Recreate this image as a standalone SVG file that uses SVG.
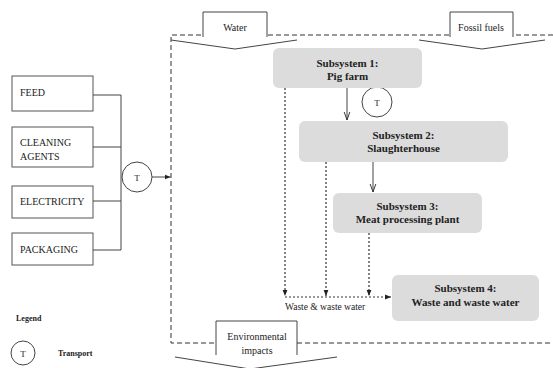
<svg xmlns="http://www.w3.org/2000/svg" width="553" height="368" viewBox="0 0 553 368" font-family="'Liberation Serif', 'DejaVu Serif', serif">
<style>
  text{font-family:'Liberation Serif','DejaVu Serif',serif}
  .box{fill:#fff;stroke:#555;stroke-width:1}
  .sub{fill:#dcdcdc;stroke:none}
  .lbl{font-size:10px;fill:#222}
  .subt{font-size:11px;font-weight:bold;fill:#222;text-anchor:middle}
  .ln{fill:none;stroke:#444;stroke-width:1}
  .dash{fill:none;stroke:#333;stroke-width:1;stroke-dasharray:5,3}
  .dot{fill:none;stroke:#333;stroke-width:1.2;stroke-dasharray:2,2}
  .circ{fill:#fff;stroke:#444;stroke-width:1}
  .arr{fill:#fff;stroke:none}
  .arrs{fill:none;stroke:#444;stroke-width:1}
  .mid{text-anchor:middle}
  .leg{font-size:8px;font-weight:bold;fill:#222}
</style>
<defs>
  <marker id="open" viewBox="0 0 10 10" refX="10" refY="5" markerWidth="8" markerHeight="8" markerUnits="userSpaceOnUse" orient="auto">
    <path d="M0,1.5 L10,5 L0,8.5" fill="none" stroke="#333" stroke-width="1.2"/>
  </marker>
  <marker id="fill" viewBox="0 0 10 10" refX="10" refY="5" markerWidth="6" markerHeight="6" markerUnits="userSpaceOnUse" orient="auto">
    <path d="M0,1 L10,5 L0,9 z" fill="#222"/>
  </marker>
</defs>
<rect width="553" height="368" fill="#fff"/>

<polyline id="boundary" class="dash" points="553,35 171,35 171,343 553,343"/>

<g id="water">
  <polygon class="arr" points="203,12 267,12 267,37 297,40 235,49 171,40 203,37"/>
  <polyline class="arrs" points="203,37 203,12 267,12 267,37"/>
  <polyline class="arrs" points="171,40 235,49 297,40"/>
  <text class="lbl mid" x="235" y="31">Water</text>
</g>
<g id="fossil">
  <polygon class="arr" points="450,12 513,12 513,37 545,40 482,49 419,40 450,37"/>
  <polyline class="arrs" points="450,37 450,12 513,12 513,37"/>
  <polyline class="arrs" points="419,40 482,49 545,40"/>
  <text class="lbl mid" x="481" y="31">Fossil fuels</text>
</g>
<g id="env">
  <polygon class="arr" points="216,321 297,321 297,355 337,357 250,369 175,357 216,355"/>
  <polyline class="arrs" points="216,355 216,321 297,321 297,355"/>
  <polyline class="arrs" points="175,357 250,369 337,357"/>
  <text class="lbl mid" x="257" y="340">Environmental</text>
  <text class="lbl mid" x="257" y="354">impacts</text>
</g>

<g id="feed">
  <rect class="box" x="12" y="76" width="81" height="35"/>
  <text class="lbl" x="20" y="96">FEED</text>
</g>
<g id="cleaning">
  <rect class="box" x="12" y="127" width="81" height="40"/>
  <text class="lbl" x="20" y="146">CLEANING</text>
  <text class="lbl" x="20" y="159.5">AGENTS</text>
</g>
<g id="electricity">
  <rect class="box" x="12" y="186" width="81" height="32"/>
  <text class="lbl" x="20" y="204.5">ELECTRICITY</text>
</g>
<g id="packaging">
  <rect class="box" x="12" y="233" width="81" height="32"/>
  <text class="lbl" x="20" y="252.5">PACKAGING</text>
</g>

<g id="connectors">
  <path class="ln" d="M93,95 H121 V250 M93,147 H121 M93,201 H121 M93,250 H121"/>
  <path class="ln" d="M152,177 H170.5" marker-end="url(#fill)"/>
  <path class="ln" d="M347,88 V120" marker-end="url(#open)"/>
  <path class="ln" d="M373,162 V192" marker-end="url(#open)"/>
  <path class="dot" d="M285,88 V296" marker-end="url(#fill)"/>
  <path class="dot" d="M326,162 V296" marker-end="url(#fill)"/>
  <path class="dot" d="M369,233 V296" marker-end="url(#fill)"/>
  <path class="dot" d="M285,297 H391" marker-end="url(#fill)"/>
  <text class="lbl" x="285" y="310" style="font-size:9.5px">Waste &amp; waste water</text>
</g>

<g id="t1">
  <circle class="circ" cx="137" cy="177" r="15"/>
  <text class="lbl mid" x="137" y="180.5" style="font-size:9px">T</text>
</g>
<g id="t2">
  <circle class="circ" cx="377" cy="102" r="15"/>
  <text class="lbl mid" x="377" y="105.5" style="font-size:9px">T</text>
</g>

<g id="sub1">
  <rect class="sub" x="273" y="48" width="149" height="40" rx="6"/>
  <text class="subt" x="347.5" y="66.5">Subsystem 1:</text>
  <text class="subt" x="347.5" y="80">Pig farm</text>
</g>
<g id="sub2">
  <rect class="sub" x="299" y="121" width="209" height="41" rx="6"/>
  <text class="subt" x="403.5" y="139">Subsystem 2:</text>
  <text class="subt" x="403.5" y="152">Slaughterhouse</text>
</g>
<g id="sub3">
  <rect class="sub" x="333" y="193" width="149" height="40" rx="6"/>
  <text class="subt" x="407.5" y="210">Subsystem 3:</text>
  <text class="subt" x="407.5" y="223">Meat processing plant</text>
</g>
<g id="sub4">
  <rect class="sub" x="392" y="275" width="147" height="46" rx="6"/>
  <text class="subt" x="465.5" y="292">Subsystem 4:</text>
  <text class="subt" x="465.5" y="305.5">Waste and waste water</text>
</g>

<g id="legend">
  <text class="leg" x="16" y="321">Legend</text>
  <circle class="circ" cx="23" cy="353" r="12"/>
  <text class="lbl mid" x="23" y="356.5" style="font-size:9px">T</text>
  <text class="leg" x="58" y="356">Transport</text>
</g>
</svg>
